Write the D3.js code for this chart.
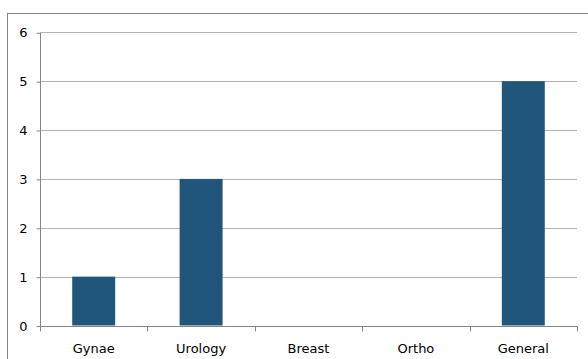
<!DOCTYPE html>
<html>
<head>
<meta charset="utf-8">
<script src="https://cdn.jsdelivr.net/npm/d3@7"></script>
<style>
  html, body { margin: 0; padding: 0; background: #fff; }
  svg { display: block; }
  text { font-family: "DejaVu Sans", Verdana, sans-serif; fill: #000; }
</style>
</head>
<body>
<svg id="chart" width="588" height="359"></svg>
<script>
// Cases by specialty
const categories = ["Gynae", "Urology", "Breast", "Ortho", "General"];
const values = [1, 3, 0, 0, 5];
const yTicks = [0, 1, 2, 3, 4, 5, 6];

const W = 588, H = 359;
const plot = { left: 40, right: 577, top: 32.3, bottom: 325.5 };

const svg = d3.select("#chart");

// chart area frame
svg.append("rect")
  .attr("x", 7.5).attr("y", 13.5)
  .attr("width", W).attr("height", H)
  .attr("fill", "#fff")
  .attr("stroke", "#868686").attr("stroke-width", 1);

const x = d3.scaleBand()
  .domain(categories)
  .range([plot.left, plot.right])
  .paddingInner(0.6).paddingOuter(0.3);

const xCat = d3.scaleBand()
  .domain(categories)
  .range([plot.left, plot.right]);

const y = d3.scaleLinear()
  .domain([0, 6])
  .range([plot.bottom, plot.top]);

// horizontal gridlines
svg.append("g")
  .selectAll("line")
  .data(yTicks.filter(d => d > 0))
  .join("line")
  .attr("x1", plot.left).attr("x2", plot.right)
  .attr("y1", d => Math.round(y(d)) + 0.5).attr("y2", d => Math.round(y(d)) + 0.5)
  .attr("stroke", "#b3b3b3").attr("stroke-width", 1);

// bars
svg.append("g")
  .selectAll("rect")
  .data(categories.map((c, i) => ({ c, v: values[i] })))
  .join("rect")
  .attr("x", d => x(d.c))
  .attr("width", x.bandwidth())
  .attr("y", d => y(d.v))
  .attr("height", d => y(0) - y(d.v))
  .attr("fill", "#1f5679");

// y axis
const yAxis = d3.axisLeft(y)
  .tickValues(yTicks)
  .tickFormat(d3.format("d"))
  .tickSize(4)
  .tickPadding(9);

const gy = svg.append("g")
  .attr("transform", `translate(${plot.left + 0.5},0.5)`)
  .call(yAxis);
gy.selectAll("line").attr("stroke", "#868686");
gy.select(".domain").attr("stroke", "#868686").attr("d", `M0,${y(6)}V${y(0)}`);
gy.selectAll("text").attr("font-size", 13).attr("font-family", "DejaVu Sans, Verdana, sans-serif");

// x axis: ticks on category boundaries
const gx = svg.append("g")
  .attr("transform", `translate(0,${Math.round(y(0)) + 0.5})`);
gx.append("line")
  .attr("x1", plot.left).attr("x2", plot.right)
  .attr("stroke", "#868686");
const boundaries = categories.map(c => xCat(c)).concat([plot.right]);
gx.selectAll("line.tick")
  .data(boundaries)
  .join("line")
  .attr("class", "tick")
  .attr("x1", d => Math.round(d) + 0.5).attr("x2", d => Math.round(d) + 0.5)
  .attr("y1", 0).attr("y2", 5)
  .attr("stroke", "#868686");
gx.selectAll("text")
  .data(categories)
  .join("text")
  .attr("x", d => xCat(d) + xCat.bandwidth() / 2)
  .attr("y", 26.5)
  .attr("text-anchor", "middle")
  .attr("font-size", 13)
  .text(d => d);
</script>
</body>
</html>
